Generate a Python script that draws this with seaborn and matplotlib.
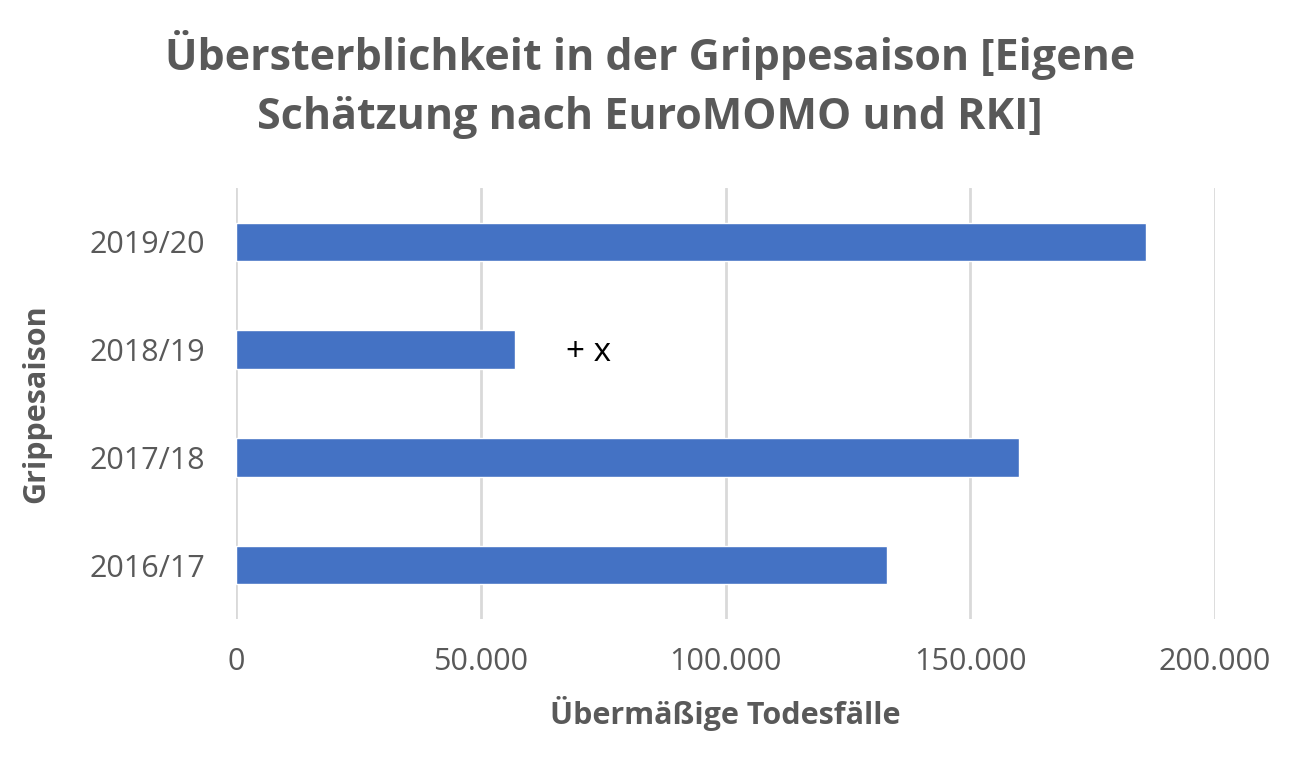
import matplotlib
matplotlib.use("Agg")
import matplotlib.pyplot as plt
import seaborn as sns
import pandas as pd

seasons = ["2019/20", "2018/19", "2017/18", "2016/17"]
deaths = [186000, 57000, 160000, 133000]
x_ticks = [0, 50000, 100000, 150000, 200000]
x_tick_labels = ["0", "50.000", "100.000", "150.000", "200.000"]
title = "Übersterblichkeit in der Grippesaison [Eigene\nSchätzung nach EuroMOMO und RKI]"
x_label = "Übermäßige Todesfälle"
y_label = "Grippesaison"
note_text = "+ x"
note_season = "2018/19"
note_x = 72000

sns.set_theme(style="white")
plt.rcParams['font.family'] = ['Open Sans', 'DejaVu Sans']

gray = "#595959"
df = pd.DataFrame({"season": seasons, "deaths": deaths})

fig = plt.figure(figsize=(12.99, 7.76), dpi=100)
ax = fig.add_axes([236/1299, 1-619/776, (1215-236)/1299, (619-188)/776])

sns.barplot(data=df, x="deaths", y="season", order=seasons, color="#4472C4",
            width=0.355, saturation=1, ax=ax, zorder=3)

ax.set_xlim(0, 200000)
ax.set_ylim(3.5, -0.5)
ax.set_xticks(x_ticks)
ax.set_xticklabels(x_tick_labels)
ax.grid(axis="x", color="#D9D9D9", linewidth=2, zorder=0)
ax.grid(axis="y", visible=False)
for s in ax.spines.values():
    s.set_visible(False)
ax.tick_params(axis="both", length=0, labelsize=22, labelcolor=gray)
ax.tick_params(axis="x", pad=20)
ax.tick_params(axis="y", pad=22)

ax.set_xlabel(x_label, fontsize=22, fontweight="bold", color=gray, labelpad=14)
ax.set_ylabel(y_label, fontsize=22, fontweight="bold", color=gray, labelpad=28)

ax.text(note_x, seasons.index(note_season) + 0.03, note_text, fontsize=24, color="black",
        ha="center", va="center")

fig.suptitle(title, x=650/1299, y=1-30/776, va="top", fontsize=31,
             fontweight="bold", color=gray, linespacing=1.47)

fig.savefig("out.png", dpi=100)
